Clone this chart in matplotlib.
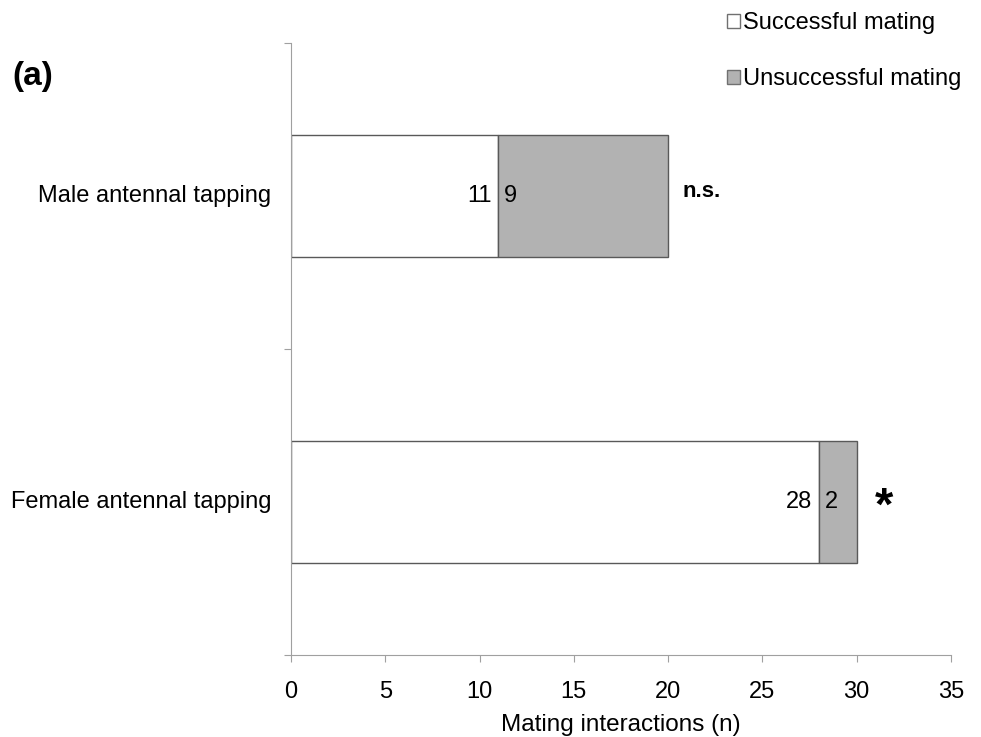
import matplotlib.pyplot as plt
from matplotlib.patches import Patch

plt.rcParams['font.family'] = ['Liberation Sans', 'DejaVu Sans']

# Datos
categorias = ['Male antennal tapping', 'Female antennal tapping']
exitosos = [11, 28]
fallidos = [9, 2]
signif = ['n.s.', '*']
posiciones = [1.5, 0.5]

fig = plt.figure(figsize=(9.81, 7.37), dpi=100)
ax = fig.add_axes([0.2966, 0.1113, 0.6728, 0.8304])

gris = '#b2b2b2'
borde = '#595959'
ax.barh(posiciones, exitosos, height=0.4, color='white', edgecolor=borde, linewidth=1.0)
ax.barh(posiciones, fallidos, left=exitosos, height=0.4, color=gris, edgecolor=borde, linewidth=1.0)

for y, e, f, s in zip(posiciones, exitosos, fallidos, signif):
    ax.text(e - 0.35, y, str(e), ha='right', va='center', fontsize=17)
    ax.text(e + 0.3, y, str(f), ha='left', va='center', fontsize=17)
    if s == '*':
        ax.text(e + f + 0.95, y - 0.02, s, ha='left', va='center', fontsize=34, fontweight='bold')
    else:
        ax.text(e + f + 0.75, y + 0.015, s, ha='left', va='center', fontsize=16, fontweight='bold')

ax.set_xlim(0, 35)
ax.set_ylim(0, 2)
ax.set_xticks(range(0, 36, 5))
ax.set_yticks([0, 1, 2])
ax.set_yticklabels([])
ax.tick_params(axis='x', labelsize=17, color='#a0a0a0', length=5, pad=14)
ax.tick_params(axis='y', color='#a0a0a0', length=5)
for lado in ['top', 'right']:
    ax.spines[lado].set_visible(False)
for lado in ['left', 'bottom']:
    ax.spines[lado].set_color('#a0a0a0')
ax.set_xlabel('Mating interactions (n)', fontsize=17.5, labelpad=8)

for y, c in zip(posiciones, categorias):
    ax.text(-0.03, y, c, transform=ax.get_yaxis_transform(), ha='right', va='center', fontsize=17)

fig.text(12 / 981, 1 - 76 / 737, '(a)', fontsize=24, fontweight='bold', va='center')

handles = [Patch(facecolor='white', edgecolor='#707070', label='Successful mating'),
           Patch(facecolor=gris, edgecolor='#707070', label='Unsuccessful mating')]
fig.legend(handles=handles, loc='upper left', bbox_to_anchor=(706 / 981, 1 + 9 / 737),
           frameon=False, fontsize=17, handlelength=0.55, handleheight=0.55,
           handletextpad=0.1, labelspacing=1.45)

fig.savefig('out.png', dpi=100)
